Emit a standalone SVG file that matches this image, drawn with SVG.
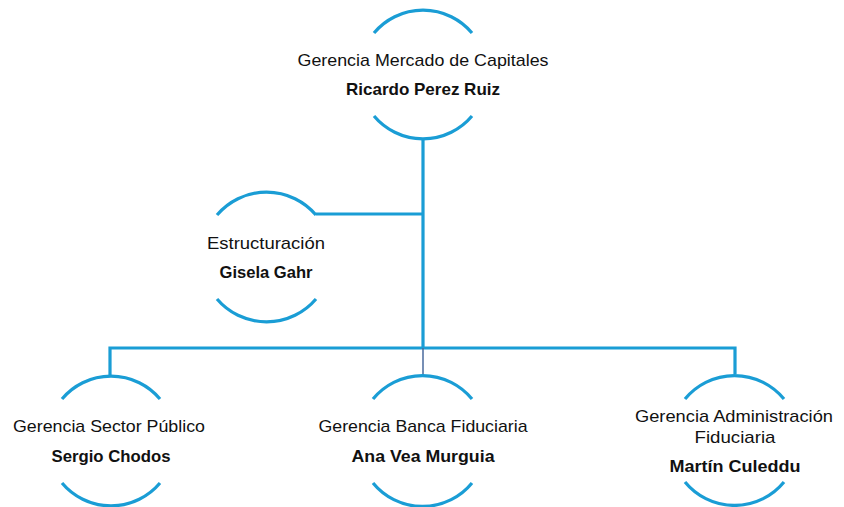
<svg xmlns="http://www.w3.org/2000/svg" width="844" height="507" viewBox="0 0 844 507">
<style>
.arc{fill:none;stroke:#1a9dd5;stroke-width:3.2}
.ln{fill:none;stroke:#1a9dd5;stroke-width:3.2}
.thin{fill:none;stroke:#4a6a9c;stroke-width:1.5}
text{font-family:"Liberation Sans",Arial,sans-serif;font-size:17px;fill:#111;text-anchor:middle}
.b{font-weight:bold}
</style>
<rect width="844" height="507" fill="#fff"/>
<g id="connectors">
<path class="ln" d="M423,138 V348"/>
<path class="ln" d="M316,214 H423"/>
<path class="ln" d="M110,375 V348 H735 V374"/>
<path class="thin" d="M423,348 V375"/>
</g>
<g id="n-capitales">
<path class="arc" d="M374,33 A64,64 0 0 1 472,33"/>
<path class="arc" d="M374,116 A64,64 0 0 0 472,116"/>
<text x="423" y="66" textLength="251" lengthAdjust="spacingAndGlyphs">Gerencia Mercado de Capitales</text>
<text class="b" x="423" y="95" textLength="154" lengthAdjust="spacingAndGlyphs">Ricardo Perez Ruiz</text>
</g>
<g id="n-estructuracion">
<path class="arc" d="M217,215 A65,65 0 0 1 316,215"/>
<path class="arc" d="M217,299 A65,65 0 0 0 316,299"/>
<text x="266" y="249" textLength="118" lengthAdjust="spacingAndGlyphs">Estructuración</text>
<text class="b" x="266" y="278" textLength="93" lengthAdjust="spacingAndGlyphs">Gisela Gahr</text>
</g>
<g id="n-sector-publico">
<path class="arc" d="M62,399 A64,64 0 0 1 160,399"/>
<path class="arc" d="M62,483 A64,64 0 0 0 160,483"/>
<text x="109" y="432" textLength="192" lengthAdjust="spacingAndGlyphs">Gerencia Sector Público</text>
<text class="b" x="111" y="462" textLength="119" lengthAdjust="spacingAndGlyphs">Sergio Chodos</text>
</g>
<g id="n-banca-fiduciaria">
<path class="arc" d="M373,399 A64,64 0 0 1 472,399"/>
<path class="arc" d="M373,483 A64,64 0 0 0 472,483"/>
<text x="423" y="432" textLength="209" lengthAdjust="spacingAndGlyphs">Gerencia Banca Fiduciaria</text>
<text class="b" x="423" y="462" textLength="143" lengthAdjust="spacingAndGlyphs">Ana Vea Murguia</text>
</g>
<g id="n-admin-fiduciaria">
<path class="arc" d="M685,399 A64,64 0 0 1 784,399"/>
<path class="arc" d="M685,482 A64,64 0 0 0 784,482"/>
<text x="734" y="422" textLength="198" lengthAdjust="spacingAndGlyphs">Gerencia Administración</text>
<text x="735" y="443" textLength="81" lengthAdjust="spacingAndGlyphs">Fiduciaria</text>
<text class="b" x="735" y="472" textLength="131" lengthAdjust="spacingAndGlyphs">Martín Culeddu</text>
</g>
</svg>
